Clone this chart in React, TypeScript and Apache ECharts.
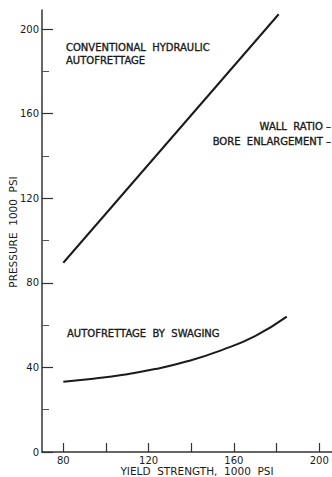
import React, { useEffect, useRef } from "react";
import * as echarts from "echarts";

const hydraulicX = [80, 181];
const hydraulicY = [89.5, 207];
const swagingX = [80, 91.7, 107.4, 123, 138.6, 154.3, 169.9, 184.8];
const swagingY = [33.2, 34.4, 36.4, 39.2, 43.0, 48.2, 54.8, 64.0];
const xTicks = [80, 100, 120, 140, 160, 180, 200];
const xLabels = [80, 120, 160, 200];
const yMajor = [0, 40, 80, 120, 160, 200];
const yMinor = [20, 60, 100, 140, 180];

const FONT = "DejaVu Sans";
const INK = "#1a1a1a";

export default function App() {
  const ref = useRef<HTMLDivElement>(null);
  useEffect(() => {
    if (!ref.current) return;
    const chart = echarts.init(ref.current, undefined, { renderer: "svg" });
    const axisLine = { show: true, lineStyle: { color: "#333", width: 1.5 } };
    const bold = { stroke: INK, lineWidth: 0.35 };
    chart.setOption({
      animation: false,
      backgroundColor: "#fff",
      grid: { left: 42, right: 0, top: 10, bottom: 25 },
      xAxis: {
        type: "value",
        min: 70,
        max: 206,
        axisLine,
        splitLine: { show: false },
        axisTick: {
          show: true,
          inside: true,
          length: 9,
          customValues: xTicks,
          lineStyle: { color: "#333", width: 1.2 },
        },
        axisLabel: {
          customValues: xLabels,
          margin: 3,
          fontFamily: FONT,
          fontSize: 10,
          lineHeight: 10,
          color: INK,
        },
      },
      yAxis: [
        {
          type: "value",
          min: 0,
          max: 209,
          axisLine,
          splitLine: { show: false },
          axisTick: {
            show: true,
            inside: true,
            length: 11,
            customValues: yMajor,
            lineStyle: { color: "#333", width: 1.2 },
          },
          axisLabel: {
            customValues: yMajor,
            margin: 3,
            fontFamily: FONT,
            fontSize: 10,
            color: INK,
          },
        },
        {
          type: "value",
          position: "left",
          min: 0,
          max: 209,
          axisLine: { show: false },
          splitLine: { show: false },
          axisTick: {
            show: true,
            inside: true,
            length: 7,
            customValues: yMinor,
            lineStyle: { color: "#555", width: 1 },
          },
          axisLabel: { show: false },
        },
      ],
      series: [
        {
          type: "line",
          data: hydraulicX.map((x, i) => [x, hydraulicY[i]]),
          showSymbol: false,
          lineStyle: { color: INK, width: 2 },
        },
        {
          type: "line",
          smooth: true,
          data: swagingX.map((x, i) => [x, swagingY[i]]),
          showSymbol: false,
          lineStyle: { color: INK, width: 2 },
        },
      ],
      graphic: [
        {
          type: "text",
          x: 13,
          y: 232,
          rotation: Math.PI / 2,
          style: {
            text: "PRESSURE  1000  PSI",
            fontFamily: FONT,
            fontSize: 10.5,
            fill: INK,
            align: "center",
            verticalAlign: "middle",
          },
        },
        {
          type: "text",
          x: 197,
          y: 470.5,
          style: {
            text: "YIELD  STRENGTH,  1000  PSI",
            fontFamily: FONT,
            fontSize: 10.5,
            lineHeight: 11,
            fill: INK,
            align: "center",
            verticalAlign: "middle",
          },
        },
        {
          type: "text",
          x: 66,
          y: 47,
          style: {
            text: "CONVENTIONAL  HYDRAULIC",
            fontFamily: FONT,
            fontSize: 10,
            fill: INK,
            verticalAlign: "middle",
            ...bold,
          },
        },
        {
          type: "text",
          x: 66,
          y: 60,
          style: {
            text: "AUTOFRETTAGE",
            fontFamily: FONT,
            fontSize: 10,
            fill: INK,
            verticalAlign: "middle",
            ...bold,
          },
        },
        {
          type: "text",
          x: 331,
          y: 126,
          style: {
            text: "WALL  RATIO –",
            fontFamily: FONT,
            fontSize: 10,
            fill: INK,
            align: "right",
            verticalAlign: "middle",
            ...bold,
          },
        },
        {
          type: "text",
          x: 331,
          y: 141,
          style: {
            text: "BORE  ENLARGEMENT –",
            fontFamily: FONT,
            fontSize: 10,
            fill: INK,
            align: "right",
            verticalAlign: "middle",
            ...bold,
          },
        },
        {
          type: "text",
          x: 67,
          y: 333,
          style: {
            text: "AUTOFRETTAGE  BY  SWAGING",
            fontFamily: FONT,
            fontSize: 10,
            fill: INK,
            verticalAlign: "middle",
            ...bold,
          },
        },
      ],
    });
    return () => chart.dispose();
  }, []);
  return (
    <div
      ref={ref}
      style={{ position: "fixed", left: 0, top: 0, width: 332, height: 477 }}
    />
  );
}
